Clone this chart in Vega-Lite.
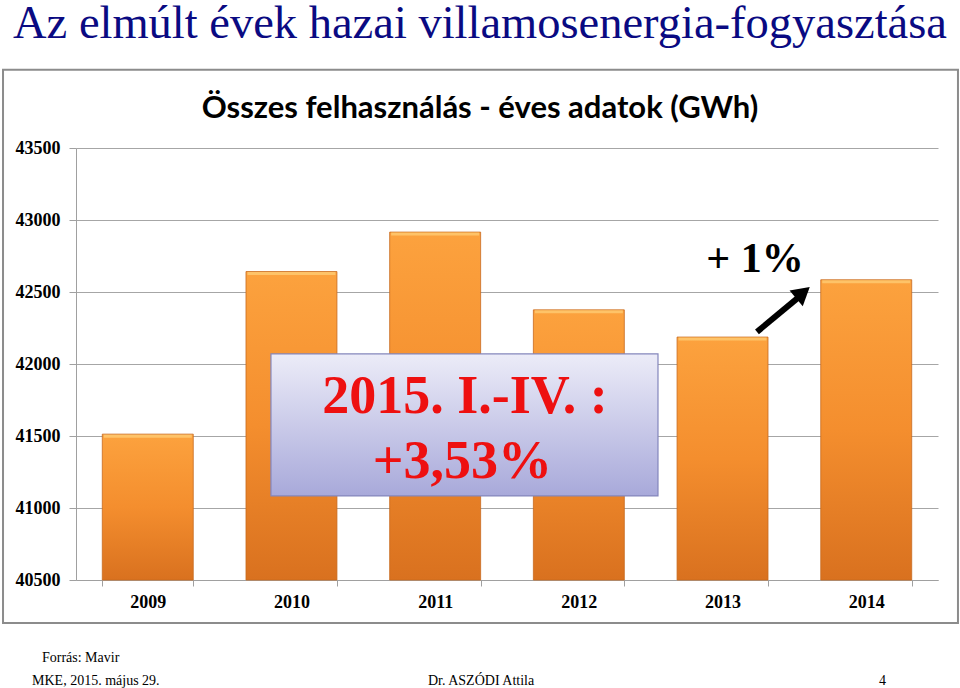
{
  "$schema": "https://vega.github.io/schema/vega-lite/v6.json",
  "width": 862,
  "height": 432,
  "autosize": {"type": "none"},
  "padding": {"left": 76, "top": 148, "right": 22, "bottom": 108},
  "background": "#ffffff",
  "config": {"view": {"stroke": null}},
  "title": {
    "text": "Az elmúlt évek hazai villamosenergia-fogyasztása",
    "subtitle": "Összes felhasználás - éves adatok (GWh)",
    "anchor": "middle",
    "frame": "group",
    "dx": -27,
    "font": "Liberation Serif",
    "fontSize": 46.5,
    "fontWeight": "normal",
    "color": "#0A0A82",
    "subtitleFont": "Lato",
    "subtitleFontSize": 31,
    "subtitleFontWeight": "bold",
    "subtitleColor": "#000000",
    "subtitlePadding": 46,
    "offset": -55
  },
  "layer": [
    {
      "data": {"values": [
        {"year": "2009", "gwh": 41513},
        {"year": "2010", "gwh": 42642},
        {"year": "2011", "gwh": 42916},
        {"year": "2012", "gwh": 42376},
        {"year": "2013", "gwh": 42187},
        {"year": "2014", "gwh": 42585}
      ]},
      "encoding": {
        "x": {
          "field": "year", "type": "nominal",
          "scale": {"paddingInner": 0.367, "paddingOuter": 0.183},
          "axis": {
            "title": null, "labelAngle": 0,
            "labelFont": "Liberation Serif", "labelFontWeight": "bold", "labelFontSize": 18, "labelColor": "#000000",
            "domainColor": "#A0A0A0", "tickColor": "#A0A0A0", "tickSize": 6, "tickBand": "extent", "labelPadding": 7, "grid": false
          }
        },
        "y": {
          "field": "gwh", "type": "quantitative",
          "scale": {"domain": [40500, 43500], "nice": false, "zero": false},
          "axis": {
            "title": null, "values": [40500, 41000, 41500, 42000, 42500, 43000, 43500], "format": "d",
            "labelFont": "Liberation Serif", "labelFontWeight": "bold", "labelFontSize": 18, "labelColor": "#000000",
            "domainColor": "#A0A0A0", "tickColor": "#A0A0A0", "gridColor": "#A6A6A6", "tickSize": 7, "labelPadding": 9, "grid": true
          }
        }
      },
      "layer": [
        {
          "mark": {
            "type": "bar",
            "stroke": "#C8691E",
            "strokeWidth": 0.8,
            "color": {
              "gradient": "linear", "x1": 0, "y1": 0, "x2": 0, "y2": 1,
              "stops": [
                {"offset": 0, "color": "#FCA23E"},
                {"offset": 0.5, "color": "#F48E2E"},
                {"offset": 1, "color": "#D9711F"}
              ]
            }
          },
          "encoding": {"y2": {"datum": 40500}}
        },
        {
          "mark": {"type": "tick", "color": "#FFD27A", "thickness": 3, "size": 88, "yOffset": 2}
        }
      ]
    },
    {
      "data": {"values": [{}]},
      "mark": {"type": "rect", "fill": null, "stroke": "#8C8C8C", "strokeWidth": 2, "clip": false},
      "encoding": {
        "x": {"datum": -0.508, "type": "quantitative", "scale": {"domain": [0, 6], "nice": false, "zero": false}, "axis": null},
        "x2": {"datum": 6.139},
        "y": {"datum": 44044, "type": "quantitative"},
        "y2": {"datum": 40201}
      }
    },
    {
      "data": {"values": [{}]},
      "mark": {"type": "rect", "fill": "#6E6E7E", "opacity": 0.45, "xOffset": 3, "yOffset": 3, "clip": false},
      "encoding": {
        "x": {"datum": 1.357, "type": "quantitative", "scale": {"domain": [0, 6], "nice": false, "zero": false}, "axis": null},
        "x2": {"datum": 4.051},
        "y": {"datum": 42070, "type": "quantitative"},
        "y2": {"datum": 41084}
      }
    },
    {
      "data": {"values": [{}]},
      "mark": {
        "type": "rect", "stroke": "#8486BC", "strokeWidth": 1.2, "clip": false,
        "fill": {
          "gradient": "linear", "x1": 0, "y1": 0, "x2": 0, "y2": 1,
          "stops": [{"offset": 0, "color": "#ECECF8"}, {"offset": 1, "color": "#A8A9DA"}]
        }
      },
      "encoding": {
        "x": {"datum": 1.357, "type": "quantitative", "scale": {"domain": [0, 6], "nice": false, "zero": false}, "axis": null},
        "x2": {"datum": 4.051},
        "y": {"datum": 42070, "type": "quantitative"},
        "y2": {"datum": 41084}
      }
    },
    {
      "data": {"values": [{"t": "2015. I.-IV. :", "px": 2.708, "py": 41660}, {"t": "+3,53%", "px": 2.69, "py": 41209}]},
      "mark": {"type": "text", "font": "Liberation Serif", "fontWeight": "bold", "fontSize": 54, "color": "#EE1010", "align": "center", "baseline": "alphabetic", "clip": false},
      "encoding": {
        "x": {"field": "px", "type": "quantitative", "scale": {"domain": [0, 6], "nice": false, "zero": false}, "axis": null},
        "y": {"field": "py", "type": "quantitative"},
        "text": {"field": "t"}
      }
    },
    {
      "data": {"values": [{}]},
      "mark": {"type": "text", "text": "+ 1%", "font": "Liberation Serif", "fontWeight": "bold", "fontSize": 42, "color": "#000000", "align": "center", "baseline": "alphabetic"},
      "encoding": {
        "x": {"datum": 4.726, "type": "quantitative", "scale": {"domain": [0, 6], "nice": false, "zero": false}, "axis": null},
        "y": {"datum": 42640, "type": "quantitative"}
      }
    },
    {
      "data": {"values": [{}]},
      "mark": {"type": "rule", "color": "#000000", "strokeWidth": 6},
      "encoding": {
        "x": {"datum": 4.74, "type": "quantitative", "scale": {"domain": [0, 6], "nice": false, "zero": false}, "axis": null},
        "x2": {"datum": 5.05},
        "y": {"datum": 42223, "type": "quantitative"},
        "y2": {"datum": 42480}
      }
    },
    {
      "data": {"values": [{}]},
      "mark": {"type": "point", "shape": "triangle-up", "filled": true, "color": "#000000", "opacity": 1, "size": 420, "angle": 50},
      "encoding": {
        "x": {"datum": 5.06, "type": "quantitative", "scale": {"domain": [0, 6], "nice": false, "zero": false}, "axis": null},
        "y": {"datum": 42495, "type": "quantitative"}
      }
    },
    {
      "data": {"values": [
        {"t": "Forrás: Mavir", "px": -0.237, "py": 39930},
        {"t": "MKE, 2015. május 29.", "px": -0.306, "py": 39770},
        {"t": "Dr. ASZÓDI Attila", "px": 2.45, "py": 39770},
        {"t": "4", "px": 5.589, "py": 39770}
      ]},
      "mark": {"type": "text", "font": "Liberation Serif", "fontSize": 14, "color": "#000000", "align": "left", "baseline": "alphabetic", "clip": false},
      "encoding": {
        "x": {"field": "px", "type": "quantitative", "scale": {"domain": [0, 6], "nice": false, "zero": false}, "axis": null},
        "y": {"field": "py", "type": "quantitative"},
        "text": {"field": "t"}
      }
    }
  ],
  "resolve": {"scale": {"x": "independent"}}
}
